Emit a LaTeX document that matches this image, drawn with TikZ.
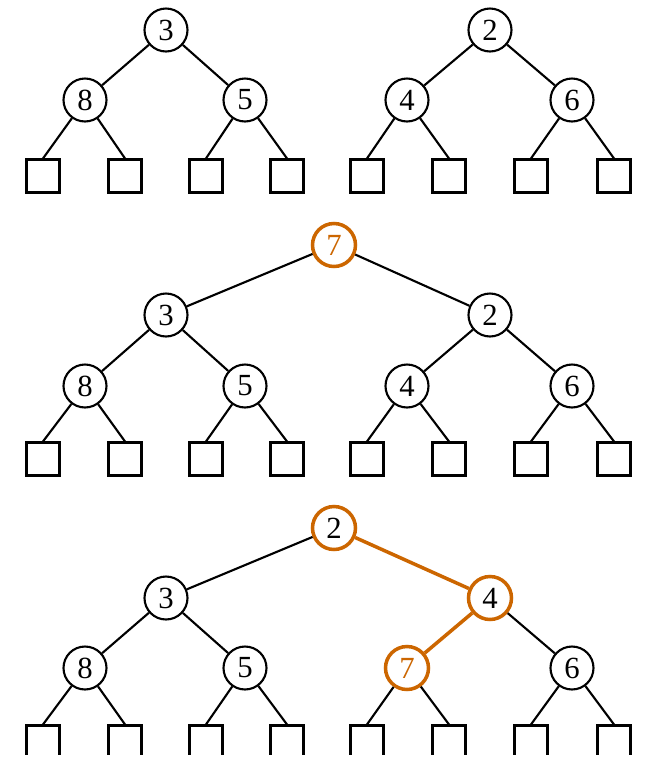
\documentclass[tikz,border=0pt]{standalone}
\usepackage{xcolor}
\usepackage{fontspec}
\setmainfont{Liberation Serif}
\usepackage{tikz}
\usetikzlibrary{positioning}
\definecolor{heaporange}{RGB}{204,102,0}

\begin{document}
\begin{tikzpicture}[x=0.02cm, y=-0.02cm, line width=1.2pt,
  font=\fontsize{17.5}{20}\selectfont,
  keynode/.style={circle, draw, fill=white, minimum size=0.86cm, inner sep=0pt},
  hotnode/.style={keynode, draw=heaporange, line width=2pt, text=heaporange},
  hotkey/.style={keynode, draw=heaporange, line width=2pt},
  leaf/.style={rectangle, draw, fill=white, minimum size=0.66cm, inner sep=0pt},
  hotedge/.style={draw=heaporange, line width=2pt}]
  \useasboundingbox (0,0) rectangle (655,779);
  \clip (0,0) rectangle (655,754);

  % Top left heap
  \node[keynode] (A3) at (166,30) {3};
  \node[keynode] (A8) at (85,100) {8};
  \node[keynode] (A5) at (245,100) {5};
  \draw (A3) -- (A8); \draw (A3) -- (A5);

  % Top right heap
  \node[keynode] (A2) at (490,30) {2};
  \node[keynode] (A4) at (407,100) {4};
  \node[keynode] (A6) at (572,100) {6};
  \draw (A2) -- (A4); \draw (A2) -- (A6);

  % Empty leaves of both heaps
  \foreach \x/\p [count=\i] in {43/A8,125/A8,206/A5,287/A5,367/A4,449/A4,531/A6,614/A6} {
    \node[leaf] (Al\i) at (\x,176) {};
    \draw (\p) -- (Al\i.north);
  }

  % New root joins the two heaps
  \node[hotnode] (B7) at (334,245) {7};
  \node[keynode] (B3) at (166,315) {3};
  \node[keynode] (B2) at (490,315) {2};
  \node[keynode] (B8) at (85,386) {8};
  \node[keynode] (B5) at (245,386) {5};
  \node[keynode] (B4) at (407,386) {4};
  \node[keynode] (B6) at (572,386) {6};
  \draw (B7) -- (B3); \draw (B7) -- (B2);
  \draw (B3) -- (B8); \draw (B3) -- (B5);
  \draw (B2) -- (B4); \draw (B2) -- (B6);
  \foreach \x/\p [count=\i] in {43/B8,125/B8,206/B5,287/B5,367/B4,449/B4,531/B6,614/B6} {
    \node[leaf] (Bl\i) at (\x,459) {};
    \draw (\p) -- (Bl\i.north);
  }

  % After sifting 7 down
  \node[hotkey] (C2) at (334,528) {2};
  \node[keynode] (C3) at (166,598) {3};
  \node[hotkey] (C4) at (490,598) {4};
  \node[keynode] (C8) at (85,668) {8};
  \node[keynode] (C5) at (245,668) {5};
  \node[hotnode] (C7) at (407,668) {7};
  \node[keynode] (C6) at (572,668) {6};
  \draw (C2) -- (C3); \draw[hotedge] (C2) -- (C4);
  \draw (C3) -- (C8); \draw (C3) -- (C5);
  \draw[hotedge] (C4) -- (C7); \draw (C4) -- (C6);
  \foreach \x/\p [count=\i] in {43/C8,125/C8,206/C5,287/C5,367/C7,449/C7,531/C6,614/C6} {
    \node[leaf] (Cl\i) at (\x,742) {};
    \draw (\p) -- (Cl\i.north);
  }
\end{tikzpicture}
\end{document}
